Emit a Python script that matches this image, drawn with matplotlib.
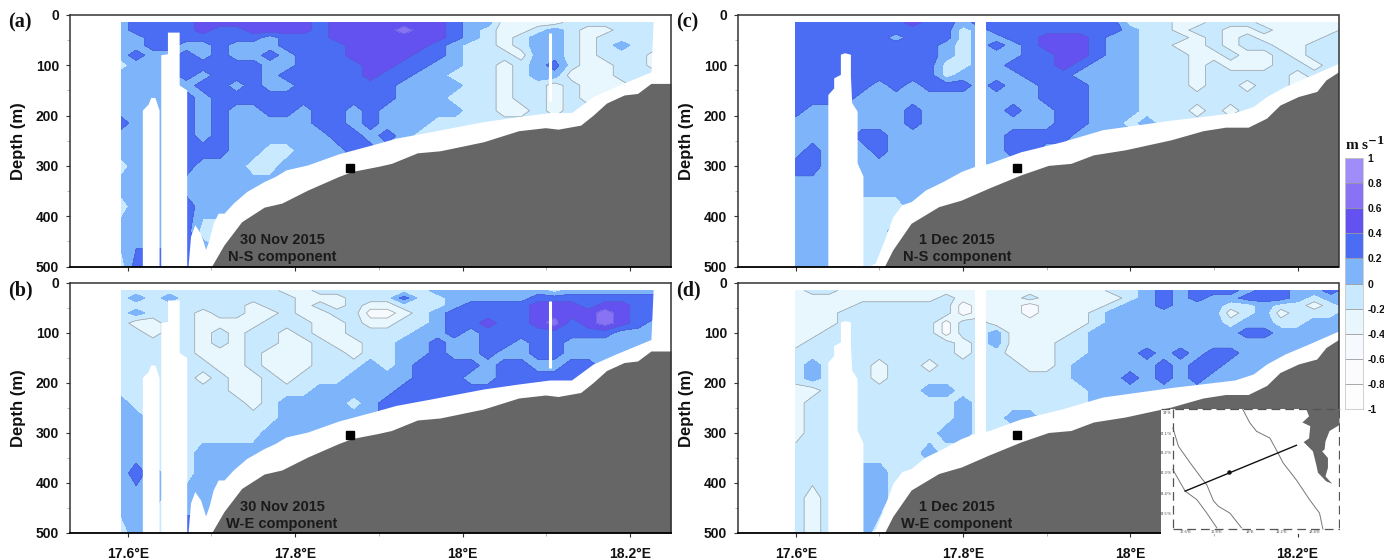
import numpy as np
import matplotlib
matplotlib.use("Agg")
import matplotlib.pyplot as plt
from matplotlib.ticker import MultipleLocator, FixedLocator

W, H = 1384, 559
plt.rcParams['font.family'] = ['Liberation Sans', 'DejaVu Sans']

# --- value bands ---------------------------------------------------------
levels = [-1, -0.8, -0.6, -0.4, -0.2, 0, 0.2, 0.4, 0.6, 0.8, 1]
band_colors = ['#FDFDFE', '#FBFBFE', '#F6F9FE', '#E8F7FE', '#C9E9FE',
               '#7EB4FA', '#4A6DF3', '#6452F0', '#8A72F5', '#A18DF8']
cbar_labels = ['-1', '-0.8', '-0.6', '-0.4', '-0.2', '0', '0.2', '0.4', '0.6', '0.8', '1']

# --- grid (velocity values in tenths of m/s) -------------------------------
depths = [15, 30, 45, 60, 80, 100, 120, 140, 165, 190, 215, 240, 270, 300, 340, 380, 430, 500]
lons_nov = [17.592, 17.61, 17.63, 17.65, 17.67, 17.69, 17.71, 17.73, 17.75, 17.77,
            17.79, 17.81, 17.83, 17.85, 17.87, 17.89, 17.91, 17.93, 17.95, 17.97,
            17.99, 18.01, 18.03, 18.05, 18.07, 18.09, 18.11, 18.13, 18.15, 18.17,
            18.19, 18.21, 18.23, 18.25]
lons_dec = [17.60, 17.62, 17.64, 17.66, 17.68, 17.70, 17.72, 17.74, 17.76, 17.78,
            17.80, 17.82, 17.84, 17.86, 17.88, 17.90, 17.92, 17.94, 17.96, 17.98,
            18.00, 18.02, 18.04, 18.06, 18.08, 18.10, 18.12, 18.14, 18.16, 18.18,
            18.20, 18.22, 18.24, 18.26]

tenths_a = [
 [1,3,3,3,3,5,5,5,5,5,  5,5,3,5,5,5,5,5,5,5,  3,1,1,-3,-3,-3,-3,-1,-1,-1,  -1,-1,-1,-1],
 [1,3,3,3,3,5,3,3,5,5,  5,5,3,5,5,5,5,7,5,5,  3,1,-1,-3,-3,-1,1,-1,-3,-3,  -1,-1,-1,-1],
 [1,1,3,3,3,3,3,3,3,1,  3,3,3,5,5,5,5,5,5,5,  3,1,-1,-3,-1,1,1,-1,-3,-1,  -1,-1,-1,-1],
 [1,1,3,3,1,1,3,1,1,1,  3,3,3,3,5,5,5,5,5,3,  1,-1,-1,-3,-1,1,1,-1,-3,-1,  1,-1,-1,-1],
 [1,3,1,1,3,1,3,1,1,3,  1,3,3,3,5,5,5,5,3,3,  1,-1,-1,-1,-3,1,1,-1,-3,-1,  -1,-1,-3,-1],
 [-1,1,1,1,3,3,3,3,3,1,  1,3,3,3,3,5,5,3,3,1,  1,-1,-1,-3,-1,1,3,-1,-3,-3,  -1,-1,-3,-1],
 [1,1,1,1,3,1,3,3,3,1,  3,3,3,3,3,5,3,3,1,1,  -1,-1,-1,-3,-1,1,1,-3,-3,-3,  -1,-1,-1,-1],
 [1,1,1,1,1,3,3,1,3,1,  1,3,3,3,3,3,3,1,1,1,  1,-1,-1,-3,-1,-1,-3,-1,-3,-3,  -3,-1,-1,-1],
 [1,1,1,1,3,1,3,3,3,3,  3,3,3,3,3,3,3,1,1,1,  -1,-1,-1,-3,-1,-1,-3,-1,-3,-3,  -3,-1,-1,-1],
 [1,1,1,1,3,1,3,1,1,3,  3,1,3,3,1,3,1,1,1,1,  1,-1,-1,-3,-3,-1,-3,-1,-1,-3,  -3,-1,-1,-1],
 [3,1,1,1,3,1,3,1,1,1,  1,1,3,3,1,3,1,1,1,-1,  -1,-1,-1,-1,-1,-1,-1,-1,-1,-1,  -1,-1,-1,-1],
 [1,1,1,1,3,1,3,1,1,1,  1,1,1,3,3,1,3,1,-1,-1,  -1,-1,-1,-1,-1,-1,-1,-1,-1,-1,  -1,-1,-1,-1],
 [1,1,1,1,3,3,3,1,1,-1,  -1,1,1,1,3,3,1,1,-1,-1,  -1,-1,-1,-1,-1,-1,-1,-1,-1,-1,  -1,-1,-1,-1],
 [-1,1,1,1,3,1,1,1,-1,-1,  1,1,1,1,3,3,1,1,-1,-1,  -1,-1,-1,-1,-1,-1,-1,-1,-1,-1,  -1,-1,-1,-1],
 [1,1,1,1,1,1,1,1,1,1,  1,1,1,1,1,1,1,1,-1,-1,  -1,-1,-1,-1,-1,-1,-1,-1,-1,-1,  -1,-1,-1,-1],
 [-1,1,1,1,3,1,1,1,1,1,  1,1,1,1,1,1,1,1,-1,-1,  -1,-1,-1,-1,-1,-1,-1,-1,-1,-1,  -1,-1,-1,-1],
 [1,1,1,1,3,-1,-1,1,1,1,  1,1,1,1,1,1,1,1,-1,-1,  -1,-1,-1,-1,-1,-1,-1,-1,-1,-1,  -1,-1,-1,-1],
 [-1,3,3,3,3,3,1,1,1,1,  1,1,1,1,1,1,1,1,-1,-1,  -1,-1,-1,-1,-1,-1,-1,-1,-1,-1,  -1,-1,-1,-1],
]
tenths_b = [
 [-1,-1,-1,-1,-1,-1,-1,-1,-1,-1,  -3,-3,-1,-1,-1,-1,-1,-1,-1,1,  1,1,1,1,1,1,-1,1,1,1,  1,1,1,1],
 [-1,1,-1,1,-1,-1,-1,-1,-1,-1,  -1,-3,-3,-3,-1,-1,-1,3,-1,-1,  1,1,1,1,1,3,3,3,3,3,  3,3,3,3],
 [-1,-1,-1,-1,-1,-1,-1,-1,-3,-1,  -1,-3,-1,-3,-1,-3,-3,-1,-1,-1,  1,3,3,3,3,5,5,5,3,5,  5,3,3,3],
 [-1,1,-1,-1,-1,-3,-1,-1,-3,-3,  -1,-3,-3,-1,-1,-5,-5,-3,-1,1,  3,3,3,3,3,5,5,5,5,7,  5,3,3,3],
 [-1,-3,-3,-1,-1,-3,-3,-3,-3,-1,  -1,-1,-3,-3,-1,-3,-3,-1,-1,1,  3,3,5,3,3,5,7,3,5,7,  5,3,1,1],
 [-1,-1,-3,-1,-1,-3,-1,-3,-1,-1,  -3,-1,-3,-3,-1,-1,-1,-1,1,1,  3,1,3,3,3,3,3,3,3,3,  1,1,1,1],
 [-1,-1,-1,-1,-1,-3,-1,-3,-1,-1,  -3,-3,-1,-3,-3,-1,-1,1,1,3,  1,1,3,3,1,3,3,1,1,1,  1,1,1,1],
 [-1,-1,-1,-1,-1,-3,-3,-3,-1,-3,  -3,-3,-1,-1,-3,-1,-1,1,1,3,  1,1,3,1,1,3,3,1,1,1,  1,1,1,1],
 [-1,-1,-1,-1,-1,-1,-3,-3,-1,-3,  -3,-3,-1,-1,-1,1,-1,1,3,3,  3,3,1,3,3,1,1,3,3,1,  1,1,1,1],
 [-1,-1,-1,-1,-1,-3,-1,-3,-3,-1,  -3,-1,-1,-1,1,1,1,1,3,3,  3,1,1,3,3,3,3,3,1,1,  1,1,1,1],
 [-1,-1,-1,-1,-1,-1,-1,-3,-3,-1,  -1,-1,1,1,1,1,1,3,3,3,  3,3,3,3,3,3,3,3,1,1,  1,1,1,1],
 [1,-1,-1,-1,-1,-1,-1,-1,-3,-1,  1,1,1,1,-1,1,3,3,3,3,  3,3,3,3,3,3,3,3,1,1,  1,1,1,1],
 [1,1,-1,-1,-1,-1,-1,-1,-1,-1,  1,1,1,1,1,1,3,3,3,3,  3,3,3,3,3,3,3,3,1,1,  1,1,1,1],
 [1,1,-1,-1,-1,-1,-1,-1,-1,1,  1,1,1,1,1,1,3,3,3,3,  3,3,3,3,3,3,3,3,1,1,  1,1,1,1],
 [1,1,-1,-1,-1,1,1,1,1,1,  1,1,1,1,1,1,3,3,3,3,  3,3,3,3,3,3,3,3,1,1,  1,1,1,1],
 [1,3,1,-1,-1,1,1,1,1,1,  1,1,1,1,1,1,3,3,3,3,  3,3,3,3,3,3,3,3,1,1,  1,1,1,1],
 [1,1,1,-1,1,1,1,1,1,3,  3,3,3,3,3,3,3,3,3,3,  3,3,3,3,3,3,3,3,1,1,  1,1,1,1],
 [-1,1,-1,-1,3,3,1,1,1,3,  3,3,3,3,3,3,3,3,3,3,  3,3,3,3,3,3,3,3,1,1,  1,1,1,1],
]
tenths_c = [
 [3,3,3,3,3,3,3,5,3,3,  1,3,3,3,3,3,3,3,3,3,  -1,-1,-1,-3,-3,-1,-1,-1,-3,-3,  -3,-3,-3,-1],
 [3,3,3,3,3,3,3,3,3,3,  -1,1,3,3,3,3,3,3,3,3,  1,-1,-1,-3,-1,-1,-3,-3,-1,-3,  -3,-3,-3,-1],
 [3,3,3,3,3,3,1,3,3,3,  -1,1,1,3,3,5,5,5,3,1,  1,-1,-1,-1,-3,-1,-3,-1,-3,-3,  -3,-3,-1,-1],
 [3,3,3,3,3,3,3,3,3,1,  -1,1,3,1,3,5,5,5,3,1,  1,-1,-1,-3,-3,-1,-3,-1,-1,-3,  -3,-1,-1,-1],
 [3,3,3,3,3,3,3,3,3,1,  -1,1,1,1,3,3,5,5,3,1,  1,-1,-1,-1,-3,-3,-1,-3,-3,-1,  -3,-1,-1,-1],
 [3,3,3,3,3,3,3,3,3,-1,  -1,1,1,3,3,3,5,3,1,1,  1,-1,-1,-1,-3,-1,-3,-3,-3,-1,  -1,-3,-1,-1],
 [3,3,3,3,3,3,3,3,3,-1,  1,1,1,1,3,3,3,1,1,1,  1,-1,-1,-1,-3,-1,-1,-1,-1,-1,  -3,-1,-1,-1],
 [3,3,3,3,3,1,3,1,3,3,  3,1,3,1,1,3,3,3,1,1,  1,-1,-1,-1,-3,-1,-1,-3,-1,-1,  -3,-3,-1,-1],
 [3,3,3,3,1,1,1,1,1,1,  1,1,1,1,1,3,3,3,1,1,  1,-1,-1,-1,-1,-1,-1,-1,-1,-3,  -3,-3,-1,-1],
 [3,1,1,1,1,1,1,3,1,1,  1,1,1,3,1,1,3,3,1,1,  1,-1,-1,-1,-3,-1,-3,-1,-1,-3,  -3,-3,-1,-1],
 [1,1,1,1,1,1,1,3,1,1,  1,1,1,1,1,1,3,3,1,1,  -1,1,-1,-1,-1,-1,-1,-1,-1,-1,  -1,-1,-1,-1],
 [1,1,1,1,3,3,1,1,1,1,  1,1,1,3,3,3,3,1,1,1,  1,-1,-1,-1,-1,-1,-1,-1,-1,-1,  -1,-1,-1,-1],
 [1,3,1,1,1,3,1,1,1,1,  1,1,1,3,3,1,1,1,1,1,  1,-1,-1,-1,-1,-1,-1,-1,-1,-1,  -1,-1,-1,-1],
 [3,3,1,1,1,1,1,1,1,1,  1,1,1,1,1,1,1,1,1,1,  1,-1,-1,-1,-1,-1,-1,-1,-1,-1,  -1,-1,-1,-1],
 [1,1,1,1,1,1,1,1,1,1,  1,1,1,1,1,1,1,1,1,1,  1,-1,-1,-1,-1,-1,-1,-1,-1,-1,  -1,-1,-1,-1],
 [1,1,1,1,-1,-1,-1,1,1,1,  1,1,1,1,1,1,1,1,1,1,  1,-1,-1,-1,-1,-1,-1,-1,-1,-1,  -1,-1,-1,-1],
 [1,1,1,1,-1,-1,1,1,1,1,  1,1,1,1,1,1,1,1,1,1,  1,-1,-1,-1,-1,-1,-1,-1,-1,-1,  -1,-1,-1,-1],
 [1,1,1,1,-1,-1,-1,1,1,1,  1,1,1,1,1,1,1,1,1,1,  1,-1,-1,-1,-1,-1,-1,-1,-1,-1,  -1,-1,-1,-1],
]
tenths_d = [
 [-3,-1,-1,-3,-3,-3,-3,-3,-3,-3,  -3,-3,-3,-3,-3,-3,-3,-3,-3,-1,  -1,1,3,1,3,3,3,1,3,3,  1,1,3,1],
 [-3,-3,-3,-3,-3,-3,-3,-3,-3,-1,  -3,-3,-3,-3,-1,-3,-3,-3,-3,-3,  -1,1,3,1,3,1,1,3,3,3,  1,-1,1,1],
 [-3,-3,-3,-3,-1,-1,-1,-1,-1,-1,  -5,-3,-3,-3,-5,-3,-3,-3,-3,-1,  1,1,3,1,1,1,-1,-1,1,-1,  -1,-3,-1,1],
 [-3,-3,-3,-1,-1,-1,-1,-1,-1,-1,  -5,-3,-3,-3,-5,-3,-3,-3,-1,1,  1,1,1,1,1,1,-3,-1,1,-3,  -1,-1,-1,1],
 [-3,-3,-3,-1,-1,-1,-1,-1,-1,-5,  -1,-1,-3,-3,-3,-3,-3,-3,-1,1,  1,1,1,1,1,1,-1,1,1,-1,  -1,1,1,1],
 [-3,-3,-1,-1,-1,-1,-1,-1,-1,-5,  -1,-1,1,-3,-3,-3,-3,-1,1,1,  1,1,1,1,1,1,1,3,3,1,  1,1,1,1],
 [-3,-1,-1,-1,-1,-1,-1,-1,-1,-1,  -3,-1,1,-3,-3,-3,-1,-1,1,1,  1,1,1,1,1,1,1,1,1,1,  1,1,1,1],
 [-1,-1,-1,-1,-1,-1,-1,-1,-1,-1,  -3,-1,-1,-3,-3,-3,-1,-1,1,1,  1,3,1,3,1,3,3,1,1,1,  1,1,1,1],
 [-1,1,-1,-1,-1,-3,-1,-1,-3,-1,  -1,-1,-1,-1,-3,-3,-1,1,1,1,  1,1,3,1,3,3,1,1,1,1,  1,1,1,1],
 [-1,1,-1,-1,-1,-3,-1,-1,-1,-1,  -1,-1,-1,-1,-1,-1,-1,1,1,1,  3,1,3,1,3,1,1,1,1,1,  1,1,1,1],
 [-3,-3,-1,-1,-1,-1,-1,-1,1,1,  -1,-1,-1,-1,-1,-1,-1,-1,1,1,  1,1,1,1,1,1,1,1,1,1,  1,1,1,1],
 [-3,-1,-1,-1,-1,-1,-1,-1,-1,-1,  1,-1,-1,-1,-1,-1,-1,-1,1,1,  1,1,1,1,1,1,1,1,1,1,  1,1,1,1],
 [-3,-1,-1,-1,-1,-1,-1,-1,-1,-1,  1,-1,-1,1,1,-1,-1,-1,1,1,  1,1,1,1,1,1,1,1,1,1,  1,1,1,1],
 [-3,-1,-1,-1,-1,-1,-1,-1,-1,1,  1,-1,-1,-1,-1,-1,-1,-1,1,1,  1,1,1,1,1,1,1,1,1,1,  1,1,1,1],
 [-1,-1,-1,-1,-1,-1,-1,-1,1,-1,  -1,-1,-1,-1,-1,-1,-1,-1,1,1,  1,1,1,1,1,1,1,1,1,1,  1,1,1,1],
 [-1,-1,-1,-1,1,1,-1,-1,-1,-1,  -1,-1,-1,-1,-1,-1,-1,-1,1,1,  1,1,1,1,1,1,1,1,1,1,  1,1,1,1],
 [-1,-3,-1,-1,1,1,-1,-1,-1,-1,  -1,-1,-1,-1,-1,-1,-1,-1,1,1,  1,1,1,1,1,1,1,1,1,1,  1,1,1,1],
 [-1,-3,-1,-1,1,-1,-1,-1,-1,-1,  -1,-1,-1,-1,-1,-1,-1,-1,1,1,  1,1,1,1,1,1,1,1,1,1,  1,1,1,1],
]

# --- seabed and no-data outlines ------------------------------------------
bed_nov_lon = [17.700,17.715,17.736,17.763,17.784,17.815,17.852,17.868,17.899,17.915,17.946,17.973,18.025,18.067,18.099,18.114,18.141,18.156,18.172,18.193,18.209,18.225,18.249]
bed_nov_dep = [500,457,411,382,374,348,321,311,301,295,274,270,252,230,224,227,219,199,175,159,156,136,136]
bed_dec_lon = [17.706,17.716,17.738,17.771,17.798,17.831,17.869,17.902,17.929,17.956,17.994,18.049,18.087,18.114,18.141,18.163,18.179,18.201,18.223,18.234,18.249]
bed_dec_dep = [500,467,414,381,368,344,318,299,295,278,268,248,230,223,223,205,179,162,152,129,113]
edge_nov_lon = [17.672,17.675,17.680,17.687,17.693,17.697,17.702,17.708,17.715,17.726,17.742,17.763,17.776,17.789,17.815,17.852,17.899,17.920,17.962,18.025,18.067,18.104,18.130,18.156,18.183,18.225,18.228,18.249]
edge_nov_dep = [500,440,417,434,466,447,414,394,394,374,351,331,321,308,298,276,255,245,232,212,202,194,194,162,142,113,0,0]
edge_dec_lon = [17.681,17.687,17.695,17.706,17.716,17.727,17.738,17.755,17.776,17.798,17.814,17.831,17.869,17.918,17.967,18.049,18.125,18.147,18.163,18.185,18.212,18.249]
edge_dec_dep = [500,500,493,447,401,377,371,348,331,311,301,295,272,252,228,209,194,182,162,142,123,96]
gaps_nov = [
 ([17.618,17.618,17.625,17.628,17.633,17.636,17.638,17.638], [500,190,178,165,165,180,190,500]),
 ([17.640,17.640,17.648,17.648,17.662,17.662,17.671,17.671], [500,80,78,35,35,140,150,500]),
]
gap_line_nov = ([18.105, 18.105], [36, 170])
gaps_dec = [
 ([17.639,17.639,17.646,17.646,17.654,17.654,17.659,17.666,17.666,17.6675,17.674,17.674,17.681,17.681],
  [500,159,146,126,119,79,76,79,122,175,192,295,321,500]),
 ([17.814,17.814,17.828,17.828], [320,0,0,320]),
]

# --- station --------------------------------------------------------------
station_lon, station_dep = [17.865], [304]
lon_ticks = [17.6, 17.8, 18.0, 18.2]
lon_tick_labels = ['17.6°E', '17.8°E', '18°E', '18.2°E']
depth_ticks = [0, 100, 200, 300, 400, 500]

# --- inset map -------------------------------------------------------------
map_iso1_x = [17.598,17.630,17.697,17.754,17.792,17.83,17.858,17.924,17.99]
map_iso1_y = [57.5,42.5,29,18,11,-2,-6.4,-12,-24]
map_iso2_x = [17.598,17.668,17.735,17.792,17.849]
map_iso2_y = [23.5,6,-1,-12,-24]
map_iso3_x = [17.996,18.038,18.076,18.152,18.199,18.228,18.304,18.379,18.436,18.455]
map_iso3_y = [73,61.6,54.8,49.3,37,29,15,-1,-12,-25]
map_sec_x, map_sec_y = [17.668, 18.304], [6, 43.4]
map_dot_x, map_dot_y = [17.919], [21.3]
map_land_x = [18.36,18.55,18.55,18.493,18.47,18.465,18.451,18.484,18.484,18.47,18.508,18.474,18.427,18.417,18.398,18.345,18.376,18.383,18.338,18.376]
map_land_y = [73,73,60,55,46.6,40,38.5,33,25,18,12,14,21,27.6,38.5,46,49,59,62,67]
map_xt = [17.668, 17.848, 18.038, 18.218, 18.408]
map_xt_labels = ['17.6°E', '17.8°E', '18°E', '18.2°E', '18.4°E']
map_yt = [70, 53, 36.8, 20.5, 4, -12.5]
map_yt_labels = ['34°S', '34.1°S', '34.2°S', '34.3°S', '34.4°S', '34.5°S']


def axes_px(l, t, r, b):
    return fig.add_axes([l / W, 1 - b / H, (r - l) / W, (b - t) / H])


fig = plt.figure(figsize=(W / 100, H / 100), dpi=100)

panels = [
    ('(a)', tenths_a, lons_nov, (70, 15, 671, 266.5), 'nov', '30 Nov 2015', 'N-S component', True),
    ('(b)', tenths_b, lons_nov, (70, 283, 671, 533), 'nov', '30 Nov 2015', 'W-E component', False),
    ('(c)', tenths_c, lons_dec, (738, 15, 1338.5, 266.5), 'dec', '1 Dec 2015', 'N-S component', True),
    ('(d)', tenths_d, lons_dec, (738, 283, 1338.5, 533), 'dec', '1 Dec 2015', 'W-E component', False),
]

for tag, T, lons, box, period, date, comp, top in panels:
    ax = axes_px(*box)
    Z = np.array(T) / 10.0
    ax.contourf(lons, depths, Z, levels=levels, colors=band_colors)
    neg = [l for l in levels if l < 0]
    pos = [l for l in levels if l > 0]
    ax.contour(lons, depths, Z, levels=neg, colors='#a0a0a0', linewidths=0.5, linestyles='solid')
    ax.contour(lons, depths, Z, levels=pos, colors='#4a60c8', linewidths=0.35, linestyles='solid')

    if period == 'nov':
        edge_x, edge_y, bed_x, bed_y, gaps = edge_nov_lon, edge_nov_dep, bed_nov_lon, bed_nov_dep, gaps_nov
    else:
        edge_x, edge_y, bed_x, bed_y, gaps = edge_dec_lon, edge_dec_dep, bed_dec_lon, bed_dec_dep, gaps_dec
    ax.fill_between(edge_x, edge_y, 500, color='white', lw=0, zorder=2.1)
    for gx, gy in gaps:
        ax.fill(gx, gy, color='white', lw=0, zorder=2.1)
    if period == 'nov':
        ax.plot(*gap_line_nov, color='white', lw=2.2, zorder=2.1, solid_capstyle='butt')
    ax.fill_between(bed_x, bed_y, 500, color='#666666', lw=0, zorder=2.2)
    ax.plot(station_lon, station_dep, 's', color='black', ms=6.2, zorder=2.3)

    ax.set_xlim(17.531, 18.249)
    ax.set_ylim(500, 0)
    ax.xaxis.set_major_locator(FixedLocator(lon_ticks))
    ax.xaxis.set_minor_locator(MultipleLocator(0.1))
    ax.yaxis.set_minor_locator(MultipleLocator(50))
    ax.tick_params(axis='both', which='major', length=3, width=0.8, color='#333333')
    ax.tick_params(axis='both', which='minor', length=2, width=0.5, color='#999999')
    if top:
        ax.set_xticklabels([])
    else:
        ax.set_xticklabels(lon_tick_labels, fontweight='bold', fontsize=10, color='#111111')
    ax.set_yticks(depth_ticks)
    ax.set_yticklabels([str(d) for d in depth_ticks], fontweight='bold', fontsize=10, color='#111111')
    ax.tick_params(axis='x', pad=7)
    ax.tick_params(axis='y', pad=5)
    ax.set_ylabel('Depth (m)', fontweight='bold', fontsize=12, labelpad=7, color='#111111')
    for s in ax.spines.values():
        s.set_color('#333333')
        s.set_linewidth(1.1)
    ax.spines['bottom'].set_color('black')
    ax.spines['bottom'].set_linewidth(1.3)
    cx = (box[0] + 212) if period == 'nov' else (box[0] + 219)
    ax.text((cx - box[0]) / (box[2] - box[0]), 26 / 251, date, transform=ax.transAxes,
            ha='center', va='center', fontweight='bold', fontsize=10.5, color='#1a1a1a', zorder=6)
    ax.text((cx - box[0]) / (box[2] - box[0]), 9 / 251, comp, transform=ax.transAxes,
            ha='center', va='center', fontweight='bold', fontsize=10.5, color='#1a1a1a', zorder=6)
    fig.text((box[0] - 62) / W, 1 - (box[1] + 7) / H, tag,
             family=['Liberation Serif'], fontweight='bold', fontsize=14.5,
             ha='left', va='center', color='#111111')

# --- colour bar ------------------------------------------------------------
cax = axes_px(1345, 158, 1363, 409)
cax.contourf([0, 1], levels, np.array([levels, levels]).T, levels=levels, colors=band_colors)
cax.hlines(levels, 0, 1, colors='#9a9a9a', lw=0.6)
cax.set_xlim(0, 1)
cax.set_ylim(-1, 1)
cax.set_xticks([])
cax.yaxis.tick_right()
cax.set_yticks(levels)
cax.set_yticklabels(cbar_labels, fontweight='bold', fontsize=7.5, color='#111111')
cax.tick_params(axis='y', length=0, pad=3)
for s in cax.spines.values():
    s.set_color('#c8c8c8')
    s.set_linewidth(0.6)
fig.text(1345 / W, 1 - 144 / H, 'm s$^{\\mathbf{-1}}$', family=['Liberation Serif'], fontweight='bold',
         fontsize=11, ha='left', va='center', color='#111111', math_fontfamily='dejavuserif')

# --- inset map -------------------------------------------------------------
iax = axes_px(1161, 409, 1339.5, 534)
iax.set_xlim(17.53, 18.55)
iax.set_ylim(-29, 73)
iax.set_facecolor('white')
iax.plot(map_iso1_x, map_iso1_y, color='#777777', lw=0.7)
iax.plot(map_iso2_x, map_iso2_y, color='#777777', lw=0.7)
iax.plot(map_iso3_x, map_iso3_y, color='#777777', lw=0.7)
iax.fill(map_land_x, map_land_y, color='#666666', lw=0)
iax.plot(map_sec_x, map_sec_y, color='#111111', lw=1.0)
iax.plot(map_dot_x, map_dot_y, 'o', color='#111111', ms=2.2)
frame_dash = (0, (7, 4))
iax.plot([17.598, 17.598], [73, -25], color='#555555', lw=0.9, ls=frame_dash)
iax.plot([17.598, 18.55], [-25, -25], color='#555555', lw=0.9, ls=frame_dash)
iax.plot([17.53, 18.55], [73, 73], color='#555555', lw=0.9, ls=frame_dash, clip_on=False)
iax.plot([18.548, 18.548], [73, -25], color='#555555', lw=0.9, ls=frame_dash)
for x, s in zip(map_xt, map_xt_labels):
    iax.text(x, -27.2, s, fontsize=2.8, ha='center', va='center', color='#444444')
for y, s in zip(map_yt, map_yt_labels):
    iax.text(17.59, y, s, fontsize=2.8, ha='right', va='center', color='#444444')
iax.set_xticks([])
iax.set_yticks([])
for s in iax.spines.values():
    s.set_visible(False)
iax.set_zorder(10)

fig.savefig('out.png', dpi=100)
